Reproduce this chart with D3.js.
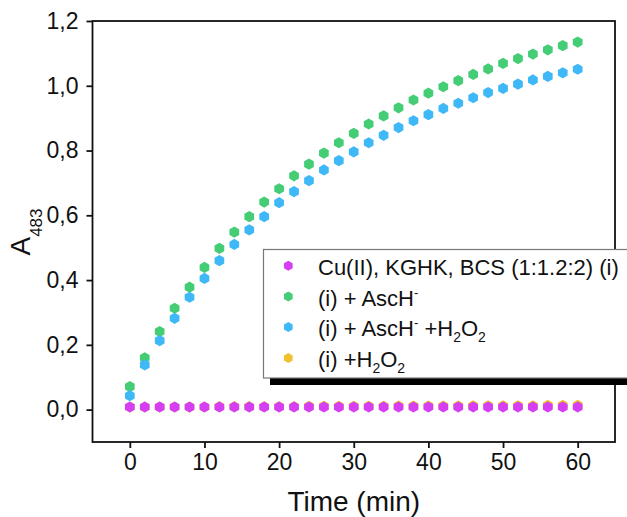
<!DOCTYPE html>
<html><head><meta charset="utf-8">
<script src="https://cdn.jsdelivr.net/npm/d3@7"></script>
<style>body{margin:0;background:#fff;} svg{display:block;font-family:"Liberation Sans",Arial,sans-serif;}</style>
</head><body>
<svg id="c" width="627" height="517"></svg>
<script>
const time = d3.range(0, 61, 2);
const cuKGHK = [0.008,0.008,0.008,0.008,0.008,0.008,0.008,0.008,0.008,0.008,0.008,0.008,0.008,0.008,0.008,0.008,0.008,0.008,0.008,0.008,0.008,0.008,0.008,0.008,0.008,0.008,0.008,0.008,0.008,0.008,0.008];
const ascH = [0.071,0.160,0.241,0.313,0.378,0.439,0.498,0.548,0.596,0.641,0.682,0.722,0.758,0.792,0.824,0.853,0.882,0.907,0.932,0.956,0.977,0.997,1.016,1.035,1.052,1.069,1.084,1.098,1.111,1.124,1.135];
const ascHH2O2 = [0.043,0.138,0.213,0.282,0.347,0.405,0.460,0.510,0.555,0.596,0.639,0.673,0.707,0.740,0.769,0.796,0.824,0.847,0.871,0.892,0.911,0.930,0.946,0.963,0.979,0.992,1.005,1.018,1.029,1.040,1.051];
const h2o2 = [0.008,0.008,0.008,0.008,0.008,0.008,0.009,0.009,0.009,0.009,0.009,0.009,0.010,0.010,0.010,0.010,0.010,0.010,0.011,0.011,0.011,0.011,0.011,0.012,0.012,0.012,0.012,0.012,0.013,0.013,0.013];
const xTicks = [0,10,20,30,40,50,60];
const yTicks = [0,0.2,0.4,0.6,0.8,1.0,1.2];
const seriesNames = ["Cu(II), KGHK, BCS (1:1.2:2) (i)", "(i) + AscH⁻", "(i) + AscH⁻ +H₂O₂", "(i) +H₂O₂"];
const colors = ["#d63ef3", "#45cd75", "#3fb8f7", "#efc12f"];

const svg = d3.select("#c");
const x = d3.scaleLinear().domain([-5, 65]).range([92.5, 615]);
const y = d3.scaleLinear().domain([-0.1, 1.2]).range([442, 21]);
const fmt = d => d3.format(".1f")(d).replace(".", ",");

const hex = d3.symbol().type({draw(ctx, size){const r=Math.sqrt(size*2/(3*Math.sqrt(3)));for(let i=0;i<6;i++){const a=Math.PI/3*i - Math.PI/2;const px=r*Math.cos(a),py=r*Math.sin(a);i?ctx.lineTo(px,py):ctx.moveTo(px,py);}ctx.closePath();}});
const hexPath = r => hex.size(3*Math.sqrt(3)/2*r*r)();

// frame
svg.append("rect").attr("x",92.5).attr("y",21).attr("width",522.5).attr("height",421)
  .attr("fill","none").attr("stroke","#111").attr("stroke-width",1.8);

const xAxis = svg.append("g").attr("transform","translate(0,442)")
  .call(d3.axisBottom(x).tickValues(xTicks).tickSize(6).tickPadding(6).tickFormat(d3.format("d")));
const yAxis = svg.append("g").attr("transform","translate(92.5,0)")
  .call(d3.axisLeft(y).tickValues(yTicks).tickSize(6).tickPadding(8).tickFormat(fmt));
[xAxis,yAxis].forEach(a=>{a.select(".domain").remove();a.selectAll("line").attr("stroke","#111").attr("stroke-width",1.8);
  a.selectAll("text").attr("font-size",23).attr("fill","#111").attr("font-family","Liberation Sans, Arial, sans-serif");});

// data
const data = [cuKGHK, ascH, ascHH2O2, h2o2];
const order = [3,0,1,2];
order.forEach(i=>{
  svg.append("g").selectAll("path").data(time.map((t,j)=>[t,data[i][j]])).join("path")
    .attr("d", hexPath(5.6)).attr("fill", colors[i])
    .attr("transform", d=>`translate(${x(d[0])},${y(d[1])})`);
});

// titles
svg.append("text").attr("x",353.75).attr("y",511).attr("text-anchor","middle").attr("font-size",28).attr("fill","#111").text("Time (min)");
const yt = svg.append("text").attr("transform","translate(29.5,232) rotate(-90)").attr("text-anchor","middle").attr("fill","#111").attr("font-size",28);
yt.append("tspan").text("A");
yt.append("tspan").attr("font-size",17).attr("dy",12).text("483");

// legend
svg.append("rect").attr("x",270).attr("y",256).attr("width",400).attr("height",129).attr("fill","#000");
svg.append("rect").attr("x",263.5).attr("y",249.5).attr("width",400).attr("height",128.5).attr("fill","#fff").attr("stroke","#777").attr("stroke-width",1.2);
const rowsY = [265.7, 296.5, 327, 358];
const lg = svg.append("g");
rowsY.forEach((ry,i)=>{
  lg.append("path").attr("d",hexPath(5)).attr("fill",colors[i]).attr("transform",`translate(288.3,${ry})`);
});
const lt = (i)=>lg.append("text").attr("x",318).attr("y",rowsY[i]+9).attr("font-size",22).attr("fill","#111");
lt(0).text(seriesNames[0]);
let t1 = lt(1); t1.append("tspan").text("(i) + AscH"); t1.append("tspan").attr("font-size",13).attr("dy",-9).text("-");
let t2 = lt(2); t2.append("tspan").text("(i) + AscH"); t2.append("tspan").attr("font-size",13).attr("dy",-9).text("-");
t2.append("tspan").attr("dy",9).text(" +H"); t2.append("tspan").attr("font-size",14).attr("dy",6).text("2");
t2.append("tspan").attr("dy",-6).text("O"); t2.append("tspan").attr("font-size",14).attr("dy",6).text("2");
let t3 = lt(3); t3.append("tspan").text("(i) +H"); t3.append("tspan").attr("font-size",14).attr("dy",6).text("2");
t3.append("tspan").attr("dy",-6).text("O"); t3.append("tspan").attr("font-size",14).attr("dy",6).text("2");
</script>
</body></html>
